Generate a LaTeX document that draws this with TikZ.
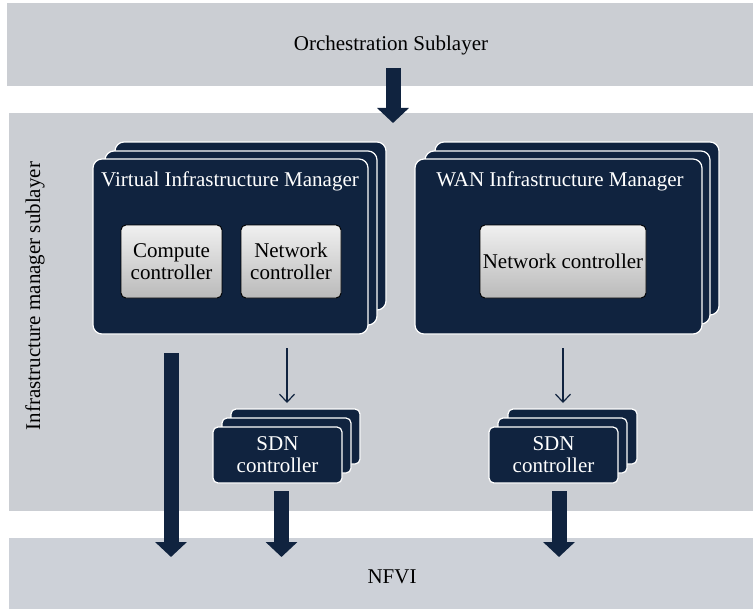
\documentclass[tikz,border=0pt]{standalone}
\usepackage{fontspec}
\setmainfont{Liberation Serif}
\newfontfamily\diagfont{Liberation Serif}
\usetikzlibrary{arrows.meta}
\definecolor{navy}{HTML}{10233F}
\definecolor{bandgray}{HTML}{CBCED3}
\definecolor{bandblue}{HTML}{CDD1D8}
\definecolor{ctrltop}{HTML}{F0F0F0}
\definecolor{ctrlbot}{HTML}{BABABA}
\begin{document}
\begin{tikzpicture}[x=1pt,y=-1pt,
  every node/.style={font=\diagfont\fontsize{21}{22}\selectfont, inner sep=0pt, outer sep=0pt},
  band/.style={fill=bandgray, draw=none, anchor=north west},
  darkbox/.style={fill=navy, draw=white, line width=1.2pt, rounded corners=9pt, anchor=north west},
  sdnbox/.style={darkbox, rounded corners=5pt},
  ctrl/.style={draw=black, line width=0.9pt, rounded corners=5pt, top color=ctrltop, bottom color=ctrlbot, anchor=north west, align=center, text=black},
  lbl/.style={text=white, align=center},
  bigarrow/.style={draw=navy, line width=15pt, -{Triangle[width=31pt,length=15pt]}},
  thinarrow/.style={draw=navy, line width=1.2pt, -{Straight Barb[length=8pt,width=15pt,line width=1.2pt]}}
]
\useasboundingbox (0,0) rectangle (753,610);

% bands
\node[band, minimum width=746pt, minimum height=83pt] (orch) at (7,3) {};
\node[band, minimum width=744pt, minimum height=398pt] (imsub) at (9,113) {};
\node[band, fill=bandblue, minimum width=744pt, minimum height=71pt] (nfvi) at (9,538) {};

\node (orchlbl) at (391,45) {Orchestration Sublayer};
\node (nfvilbl) at (392,577) {NFVI};
\node[rotate=90] (imlbl) at (35,296) {Infrastructure manager sublayer};

% VIM stack
\node[darkbox, minimum width=271pt, minimum height=168pt] (vim3) at (115,142) {};
\node[darkbox, minimum width=272pt, minimum height=174pt] (vim2) at (105,151) {};
\node[darkbox, minimum width=275pt, minimum height=175pt] (vim) at (93,159) {};
\node[lbl] (vimlbl) at (230,181) {Virtual Infrastructure Manager};
\node[ctrl, minimum width=101pt, minimum height=73pt] (comp) at (121,225) {Compute\\controller};
\node[ctrl, minimum width=100pt, minimum height=73pt] (netc) at (241,225) {Network\\controller};

% WIM stack
\node[darkbox, minimum width=284pt, minimum height=173pt] (wim3) at (435,142) {};
\node[darkbox, minimum width=285pt, minimum height=173pt] (wim2) at (425,151) {};
\node[darkbox, minimum width=287pt, minimum height=175pt] (wim) at (415,159) {};
\node[lbl] (wimlbl) at (560,181) {WAN Infrastructure Manager};
\node[ctrl, minimum width=166pt, minimum height=73pt] (wnet) at (480,225) {Network controller};

% SDN stacks
\node[sdnbox, minimum width=129pt, minimum height=55pt] (sdnL3) at (231,409) {};
\node[sdnbox, minimum width=129pt, minimum height=55pt] (sdnL2) at (222,418) {};
\node[sdnbox, minimum width=129pt, minimum height=56pt] (sdnL) at (213,427) {};
\node[lbl] (sdnLlbl) at (277.5,455) {SDN\\controller};

\node[sdnbox, minimum width=129pt, minimum height=55pt] (sdnR3) at (508,409) {};
\node[sdnbox, minimum width=129pt, minimum height=55pt] (sdnR2) at (498,418) {};
\node[sdnbox, minimum width=129pt, minimum height=56pt] (sdnR) at (489,427) {};
\node[lbl] (sdnRlbl) at (553.5,455) {SDN\\controller};

% connector ends
\coordinate (topA) at (393,68);
\coordinate (topB) at (393,123);
\coordinate (vimA) at (171,353);
\coordinate (vimB) at (171,557);
\coordinate (thinLA) at (287,348);
\coordinate (thinLB) at (287,403);
\coordinate (thinRA) at (563,348);
\coordinate (thinRB) at (563,403);
\coordinate (sdnLA) at (281.5,491);
\coordinate (sdnLB) at (281.5,557);
\coordinate (sdnRA) at (559,491);
\coordinate (sdnRB) at (559,557);

% connectors
\draw[bigarrow] (topA) -- (topB);
\draw[bigarrow] (vimA) -- (vimB);
\draw[bigarrow] (sdnLA) -- (sdnLB);
\draw[bigarrow] (sdnRA) -- (sdnRB);
\draw[thinarrow] (thinLA) -- (thinLB);
\draw[thinarrow] (thinRA) -- (thinRB);
\end{tikzpicture}
\end{document}
